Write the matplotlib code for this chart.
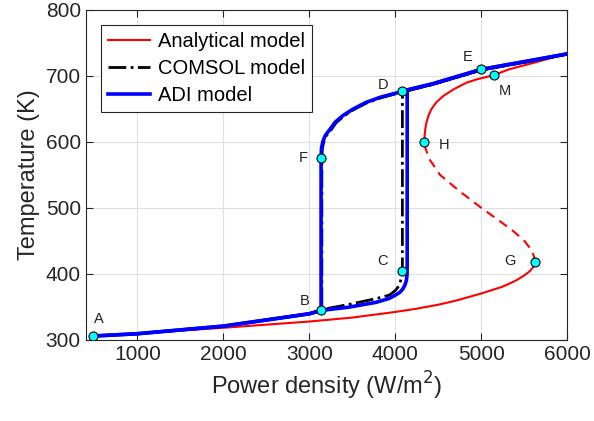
import matplotlib
matplotlib.use("Agg")
import matplotlib.pyplot as plt

plt.rcParams['font.family'] = ['Liberation Sans', 'DejaVu Sans']

# analytical model, split in stable lower / unstable middle / stable upper branch
ana_low_P = [490, 1000, 2000, 3000, 3500, 4000, 4250, 4500, 4700, 4850, 5000, 5250, 5400, 5500, 5560, 5600, 5618, 5621]
ana_low_T = [305.5, 310, 318.5, 328, 334, 342.5, 347.5, 353.5, 359.5, 365, 370.5, 381, 390, 398, 404, 410, 415, 418]
ana_mid_P = [5621, 5615, 5595, 5560, 5500, 5370, 5215, 5000, 4750, 4520, 4400, 4350, 4338]
ana_mid_T = [418, 425, 432, 440, 450, 465, 480, 500, 525, 550, 573, 590, 600]
ana_up_P = [4338, 4340, 4348, 4362, 4385, 4420, 4475, 4560, 4680, 4830, 4950, 5140, 5320, 5610, 6000]
ana_up_T = [600, 610, 620, 630, 640, 650, 660, 670, 680, 690, 695, 701, 710, 720, 734]

# ADI model: heating path and cooling path
adi_heat_P = [490, 1000, 2000, 3000, 3134, 3463, 3773, 3930, 4000, 4050, 4085, 4110, 4127, 4135, 4137,
              4137, 4431, 5000, 5600, 6000]
adi_heat_T = [306, 309.5, 321, 339.7, 344.7, 349.8, 357, 363, 368, 372, 377, 383, 390, 398, 410,
              679, 688, 710, 724, 733.5]
adi_cool_P = [6000, 5600, 5000, 4431, 4078, 3830, 3660, 3510, 3390, 3300, 3233, 3185, 3155, 3140, 3136,
              3136, 3000, 2000, 1000, 490]
adi_cool_T = [733.5, 724, 710, 688, 676.5, 668, 660, 650, 640, 630, 618, 610, 600, 590, 575,
              344.7, 339.7, 321, 309.5, 306]

# COMSOL model
com_heat_P = [490, 1000, 2000, 3000, 3140, 3463, 3773, 3930, 4000, 4047, 4070, 4080, 4081,
              4081, 4431, 5000, 5600, 6000]
com_heat_T = [306, 309.5, 321, 340, 346, 354, 362.6, 368, 375, 383, 395, 405, 415,
              676, 687, 709, 723, 733]
com_cool_P = [6000, 5600, 5000, 4431, 4080, 3835, 3665, 3515, 3398, 3310, 3245, 3195, 3165, 3150, 3145, 3145]
com_cool_T = [733, 723, 709, 687, 675.5, 667, 659, 649, 639, 629, 617, 609, 599, 589, 575, 346]

# labelled points
pt_names = ['A', 'B', 'C', 'D', 'E', 'M', 'H', 'F', 'G']
pt_P = [486, 3134, 4078, 4078, 4990, 5145, 4337, 3136, 5621]
pt_T = [306, 344.7, 405, 676.5, 709.8, 701, 600, 575, 417.5]
pt_off = [(4, 12), (-12, 7), (-14, 7), (-14, 5), (-9, 9), (8, -11), (14, -2), (-13, 0), (-18, 1)]

fig = plt.figure(figsize=(5.94, 4.21), dpi=100)
ax = fig.add_axes([0.1443, 0.1924, 0.811, 0.784])

ax.plot(ana_low_P, ana_low_T, color='red', lw=1.5, label='Analytical model')
ax.plot(ana_mid_P, ana_mid_T, color='red', lw=1.5, ls=(0, (4.5, 3)))
ax.plot(ana_up_P, ana_up_T, color='red', lw=1.5)

ax.plot(com_heat_P, com_heat_T, color='black', lw=2, ls='-.', label='COMSOL model', zorder=3)
ax.plot(com_cool_P, com_cool_T, color='black', lw=2, ls='-.', zorder=3)

ax.plot(adi_heat_P, adi_heat_T, color='#0000ff', lw=2.6, label='ADI model', zorder=4)
ax.plot(adi_cool_P, adi_cool_T, color='#0000ff', lw=2.6, zorder=4)

ax.plot(pt_P, pt_T, 'o', ms=6.5, mfc='cyan', mec='black', mew=0.8, zorder=6)
for name, p, t, off in zip(pt_names, pt_P, pt_T, pt_off):
    ax.annotate(name, (p, t), xytext=off, textcoords='offset points',
                ha='center', va='center', fontsize=10.5, color='#222222')

ax.set_xlim(400, 6000)
ax.set_ylim(300, 800)
ax.set_xticks([1000, 2000, 3000, 4000, 5000, 6000])
ax.set_yticks([300, 400, 500, 600, 700, 800])
ax.grid(True, color='#e0e0e0', lw=0.8)
ax.set_axisbelow(True)
ax.tick_params(direction='in', top=True, right=True, labelsize=15, colors='#262626', length=5)
for s in ax.spines.values():
    s.set_color('#262626')
    s.set_linewidth(0.8)

ax.set_xlabel('Power density (W/m$^2$)', fontsize=17, color='#262626')
ax.set_ylabel('Temperature (K)', fontsize=17, color='#262626')

leg = ax.legend(loc='upper left', fontsize=14.5, fancybox=False, framealpha=1,
                edgecolor='#262626', handlelength=2.1, borderpad=0.35, borderaxespad=0,
                labelspacing=0.4, handletextpad=0.4, bbox_to_anchor=(0.031, 0.955))
leg.get_frame().set_linewidth(0.8)

fig.savefig('out.png', dpi=100)
